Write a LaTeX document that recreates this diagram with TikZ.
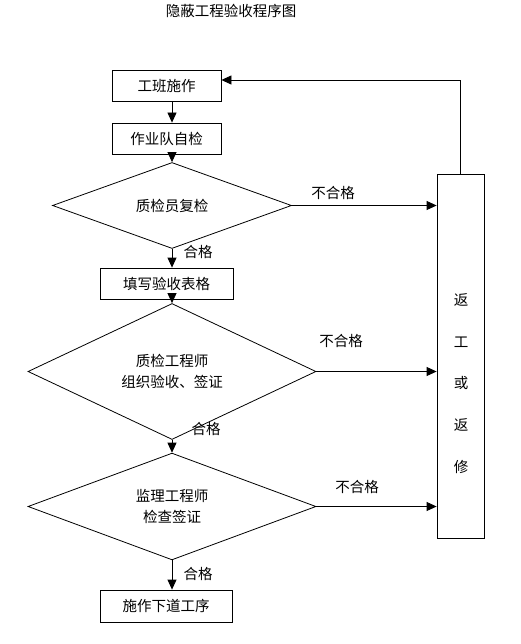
\documentclass[tikz,border=0pt]{standalone}
\usepackage{fontspec}
\setmainfont{Noto Sans CJK SC}
\usetikzlibrary{shapes.geometric,arrows.meta}
\tikzset{
  box/.style={draw, line width=0.8pt, rectangle, inner sep=0pt, font=\fontsize{14.5}{17}\selectfont},
  dia/.style={draw, line width=0.8pt, diamond, inner sep=0pt, align=center, font=\fontsize{14.5}{21}\selectfont},
  lbl/.style={inner sep=0pt, font=\fontsize{14.5}{17}\selectfont},
  arr/.style={line width=0.8pt, -{Triangle[length=10pt,width=9pt]}},
  ln/.style={line width=0.8pt}
}
\begin{document}
\begin{tikzpicture}[x=1pt,y=-1pt]
\useasboundingbox (0,0) rectangle (521,644);
\node[lbl] (title) at (231,11) {隐蔽工程验收程序图};
\node[box, minimum width=109pt, minimum height=31pt] (b1) at (166.5,85.5) {工班施作};
\node[box, minimum width=109pt, minimum height=31pt] (b2) at (166.5,138.5) {作业队自检};
\node[dia, minimum width=239pt, minimum height=61pt] (d1) at (172,205.5) {质检员复检};
\node[box, minimum width=133pt, minimum height=31pt] (b3) at (166.5,283.5) {填写验收表格};
\node[dia, minimum width=288pt, minimum height=103pt] (d2) at (172,371.5) {质检工程师\\组织验收、签证};
\node[dia, minimum width=288pt, minimum height=104pt] (d3) at (172,506.5) {监理工程师\\检查签证};
\node[box, minimum width=132pt, minimum height=32pt] (b4) at (166,606) {施作下道工序};
\node[draw, line width=0.8pt, rectangle, minimum width=47pt, minimum height=364pt, inner sep=0pt] (fix) at (460.5,356) {};
\node[lbl, align=center, font=\fontsize{14.5}{41.7}\selectfont] (fixtxt) at (461,383.5) {返\\工\\或\\返\\修};
\coordinate (ret) at (fix.north |- 0,80);
% main flow
\draw[arr] (b1.south -| d1.north) -- (b2.north -| d1.north);
\draw[arr] (b2.south -| d1.north) -- (d1.north);
\draw[arr] (d1.south) -- (b3.north -| d1.south);
\draw[arr] (b3.south -| d2.north) -- (d2.north);
\draw[arr] (d2.south) -- (d3.north);
\draw[arr] (d3.south) -- (b4.north -| d3.south);
% reject flow
\draw[arr] (d1.east) -- (d1.east -| fix.west);
\draw[arr] (d2.east) -- (d2.east -| fix.west);
\draw[arr] (d3.east) -- (d3.east -| fix.west);
\draw[arr] (fix.north) -- (ret) -- (ret -| b1.east);
% labels
\node[lbl] (n1) at (333,193) {不合格};
\node[lbl] (n2) at (341,341) {不合格};
\node[lbl] (n3) at (357,487) {不合格};
\node[lbl] (y1) at (198,252) {合格};
\node[lbl] (y2) at (206,429) {合格};
\node[lbl] (y3) at (198,574) {合格};
\end{tikzpicture}
\end{document}
